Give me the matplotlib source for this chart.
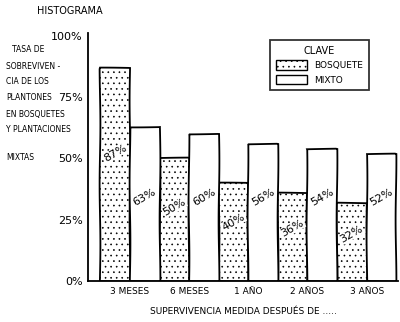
"""
histograma de supervivencia de plantones (bosquete vs mixto)
"""
import matplotlib
matplotlib.use('Agg')
import matplotlib.pyplot as plt
import matplotlib.patches as mpatches
import numpy as np

# data
categorias = ['3 MESES', '6 MESES', '1 AÑO', '2 AÑOS', '3 AÑOS']
bosquete = [87, 50, 40, 36, 32]
mixto = [63, 60, 56, 54, 52]
yticks = [0, 25, 50, 75, 100]
ytickLabels = ['0%', '25%', '50%', '75%', '100%']
ylabelLines = ['TASA DE', 'SOBREVIVEN -', 'CIA DE LOS', 'PLANTONES', 'EN BOSQUETES',
               'Y PLANTACIONES', 'MIXTAS']

plt.rcParams['font.family'] = ['DejaVu Sans']
plt.rcParams['hatch.linewidth'] = 0.45

fig = plt.figure(figsize=(4.0, 3.22), dpi=100)
ax = fig.add_axes([0.22, 0.127, 0.775, 0.762])

x = np.arange(len(categorias))
w = 0.5

# slight hand drawn look
sk = (0.4, 120, 1)

b1 = ax.bar(x - w/2, bosquete, w, color='white', edgecolor='black', hatch='...', linewidth=1.3)
b2 = ax.bar(x + w/2, mixto, w, color='white', edgecolor='black', linewidth=1.3)
for b in list(b1) + list(b2):
    b.set_sketch_params(*sk)

# value labels inside the bars
for i in range(len(categorias)):
    ax.text(x[i] - w/2, bosquete[i]*0.6, str(bosquete[i]) + '%', ha='center', va='center',
            rotation=30, fontsize=8, bbox=dict(facecolor='white', edgecolor='none', pad=0.2))
    ax.text(x[i] + w/2, 34, str(mixto[i]) + '%', ha='center', va='center', rotation=30, fontsize=8)

ax.set_xlim(-0.71, 4.53)
ax.set_ylim(0, 100)
ax.set_xticks(x)
ax.set_xticklabels(categorias, fontsize=6.5)
ax.set_yticks(yticks)
ax.set_yticklabels(ytickLabels, fontsize=8)
ax.tick_params(length=0, pad=4)

ax.spines['top'].set_visible(False)
ax.spines['right'].set_visible(False)
ax.spines['left'].set_linewidth(1.3)
ax.spines['bottom'].set_linewidth(1.3)
ax.spines['left'].set_bounds(0, 101)

ax.set_xlabel('SUPERVIVENCIA MEDIDA DESPUÉS DE .....', fontsize=6.5, labelpad=8)

# y label as free text lines on the left, between the tick labels
lineY = [50, 66, 82, 98, 114, 130, 158]
for t, yy in zip(ylabelLines, lineY):
    fig.text(0.015 if t != 'TASA DE' else 0.03, 1 - yy/322, t, fontsize=5.5, va='center', ha='left')

fig.text(0.175, 0.965, 'HISTOGRAMA', fontsize=7, ha='center', va='center')

# legend
hB = mpatches.Patch(facecolor='white', edgecolor='black', hatch='...', label='BOSQUETE')
hM = mpatches.Patch(facecolor='white', edgecolor='black', label='MIXTO')
leg = ax.legend(handles=[hB, hM], title='CLAVE', loc='upper right', bbox_to_anchor=(0.92, 1.0),
                fontsize=6.5, title_fontsize=7, frameon=True, fancybox=False,
                edgecolor='black', handlelength=3.5, handleheight=1.3, borderpad=0.6)
leg.get_frame().set_linewidth(1.3)

plt.savefig('out.png', dpi=100)
